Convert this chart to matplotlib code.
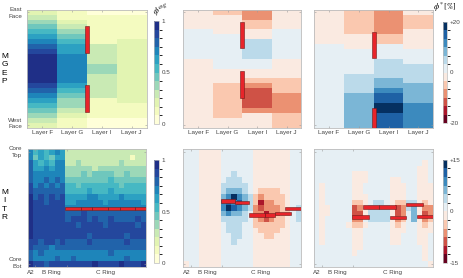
import numpy as np
import matplotlib
matplotlib.use('Agg')
import matplotlib.pyplot as plt
from matplotlib.colors import ListedColormap, BoundaryNorm
from matplotlib.patches import Rectangle

plt.rcParams['font.family'] = ['Liberation Sans', 'DejaVu Sans']
plt.rcParams['mathtext.fontset'] = 'stix'

W, H = 464, 278

# ---------------- data ----------------
# colour levels 0..11 (hex digit), one string per layer, row 0 = east face
layers = ['Layer F', 'Layer G', 'Layer I', 'Layer J']
mgep_avg = ['23456789abbbbbba98765432',
            '112345677888888765443211',
            '011111133334433333111100',
            '011111222222222222211100']
mgep_d1 = ['555566666655555555555555',
           '455556666666555444444455',
           '334455777766554322223555',
           '555566666655554443333444']
mgep_d2 = ['555555566666666666666666',
           '444445556666677778888888',
           '33333446667777889aabbaaa',
           '544455556667777888899999']
# red bars (row from, row to) at the G / I boundary
mgep_bars_avg = [(3.4, 8.8), (15.4, 20.9)]
mgep_bars_d1 = [(2.45, 7.9), (12.5, 17.9)]
mgep_bars_d2 = [(4.5, 9.8), (20.0, 24.5)]

# MITR: 22 columns (A2, B ring x6, C ring x15), 21 rows, row 0 = core top
rings = ['A2', 'B Ring', 'C Ring']
ring_pos = [0.6, 4.4, 14.5]
mitr_avg = ['8676787333333333333333',
            '8576577333333333333133',
            '9767688334333333343333',
            '9778788444443444444444',
            '9888888444545555445444',
            '9889898555555556555555',
            'a898989665666666656666',
            'a999999666676667666666',
            'b9a9a9a777788777787777',
            'baa9aaa778888878888887',
            'baaaaaa888888888888888',
            'baaaaaa999a99999999999',
            'baaaaaa9aaa9a99a9999a9',
            'baaaaaaaa9aaaa9aaaaa9a',
            'baaaaaaaaaaaaaaaaaaaaa',
            'baaaaaaaaaa9aaaaaa9aaa',
            'aa9aa9a9999a999999a999',
            'a999899999999999999999',
            '9898888888888889888888',
            '9888898898888888889888',
            'baa9aaaaaaaabaaaabaaab']
mitr_d1 = ['6665555666666555555566',
           '6665555666666555555566',
           '6665555666666555555566',
           '6665555666666555555566',
           '6665555667666555555566',
           '6665555677766555555566',
           '6665555777776555555566',
           '6665555788876544445566',
           '666555589b987434444566',
           '66655559a9a87413344566',
           '66655559ba987323334567',
           '6665555898876331334467',
           '6665555777776432344567',
           '6665555677766444444566',
           '6665555677766544445566',
           '6665555667766554455566',
           '6665555667666555555566',
           '6665555666666555555566',
           '6665555666666555555566',
           '6665555666666555555566',
           '5665555666666555555566']
mitr_d2 = ['6666666666666666666666',
           '6666666666666666666666',
           '6666666666666666666656',
           '6666666666666666666556',
           '6666666555666666666556',
           '6666666555666655666556',
           '6566666556666655566555',
           '6566666556666655566555',
           '6566666555666655566555',
           '6566666445677654477545',
           '6556666235777752378533',
           '6556666225777752368523',
           '6566666336777753468534',
           '6566665445666654566545',
           '6566666556666655566555',
           '6566666556666655666556',
           '6566666556666655666556',
           '6666666556666666666656',
           '6666666566666666666656',
           '6666666666666666666656',
           '6666666666666666666665']
# red bars (col from, col to, row centre)
mitr_bars_avg = [(7, 10, 10.6), (10, 12, 10.6), (12, 15, 10.6),
                 (15, 17.2, 10.6), (17.2, 20, 10.6), (20, 22, 10.6)]
mitr_bars_d1 = [(7.0, 9.6, 9.2), (9.6, 12.2, 9.5), (12.2, 15.3, 11.7),
                (15.3, 17.2, 11.8), (17.2, 20.2, 11.5), (19.0, 22.0, 10.6)]
mitr_bars_d2 = [(9.1, 12.1, 10.35), (12.1, 15.1, 10.35), (7.0, 10.1, 12.1),
                (14.0, 17.1, 12.2), (17.0, 20.1, 9.9), (19.1, 22.0, 12.0)]

# ---------------- colours ----------------
nlev = 12
avg_cmap = ListedColormap(plt.get_cmap('YlGnBu')(np.linspace(0.0, 0.9, nlev)))
diff_cmap = ListedColormap(plt.get_cmap('RdBu')(np.linspace(0.0, 1.0, nlev)))
bar_fc, bar_ec = '#e8242a', '#6e1a1a'
spine_c = '#bbbbbb'
txt_c = '#444444'


def levels_to_values(rows, vmin, vmax):
    lv = np.array([[int(ch, 16) for ch in r] for r in rows], dtype=float)
    return vmin + (lv + 0.5) * (vmax - vmin) / nlev


fig = plt.figure(figsize=(W / 100, H / 100), dpi=100)


def px_axes(x0, y0, x1, y1):
    return fig.add_axes([x0 / W, 1 - y1 / H, (x1 - x0) / W, (y1 - y0) / H])


def style(ax):
    for s in ax.spines.values():
        s.set_color(spine_c)
        s.set_linewidth(0.6)
    ax.tick_params(direction='in', length=1.5, width=0.4, color='#999999',
                   top=True, right=True, labelsize=4.5, labelcolor=txt_c, pad=1.5)


def draw_grid(ax, grid, cmap, vmin, vmax):
    norm = BoundaryNorm(np.linspace(vmin, vmax, nlev + 1), nlev)
    nr, nc = grid.shape
    pm = ax.pcolormesh(np.arange(nc + 1), np.arange(nr + 1), grid,
                       cmap=cmap, norm=norm)
    ax.set_xlim(0, nc)
    ax.set_ylim(nr, 0)
    return pm


def mgep_panel(ax, cols, bars, cmap, vmin, vmax):
    grid = levels_to_values(cols, vmin, vmax).T
    pm = draw_grid(ax, grid, cmap, vmin, vmax)
    for y0, y1 in bars:
        ax.add_patch(Rectangle((2 - 0.065, y0), 0.13, y1 - y0,
                               fc=bar_fc, ec=bar_ec, lw=0.4, zorder=3))
    ax.set_xticks(np.arange(4) + 0.5, layers)
    ax.set_yticks([0.5, 23.5], ['', ''])
    style(ax)
    return pm


def mitr_panel(ax, rows, bars, cmap, vmin, vmax):
    grid = levels_to_values(rows, vmin, vmax)
    pm = draw_grid(ax, grid, cmap, vmin, vmax)
    for x0, x1, yc in bars:
        ax.add_patch(Rectangle((x0, yc - 0.33), x1 - x0, 0.66,
                               fc=bar_fc, ec=bar_ec, lw=0.4, zorder=3))
    ax.set_xticks([1.4, 7.3], ['', ''])
    ax.set_yticks([0.5, 20.5], ['', ''])
    style(ax)
    for name, xp in zip(rings, ring_pos):
        ax.text(xp, 22.0, name, ha='center', va='center', fontsize=4.5,
                color=txt_c)
    return pm


def colorbar(pm, box, ticks, labels):
    cax = px_axes(*box)
    cb = fig.colorbar(pm, cax=cax)
    cb.set_ticks(ticks, labels=labels)
    cb.ax.tick_params(length=0, labelsize=4.5, labelcolor=txt_c, pad=2)
    cb.outline.set_edgecolor(spine_c)
    cb.outline.set_linewidth(0.5)
    return cb


top = (9.7, 127.5)
bot = (149, 267)
ax1 = px_axes(27.5, top[0], 146.5, top[1])
ax2 = px_axes(183.3, top[0], 301.5, top[1])
ax3 = px_axes(314, top[0], 433.3, top[1])
ax4 = px_axes(27.7, bot[0], 146, bot[1])
ax5 = px_axes(183.3, bot[0], 301, bot[1])
ax6 = px_axes(314, bot[0], 433, bot[1])

pm1 = mgep_panel(ax1, mgep_avg, mgep_bars_avg, avg_cmap, 0, 1)
pm2 = mgep_panel(ax2, mgep_d1, mgep_bars_d1, diff_cmap, -20, 20)
mgep_panel(ax3, mgep_d2, mgep_bars_d2, diff_cmap, -20, 20)
pm4 = mitr_panel(ax4, mitr_avg, mitr_bars_avg, avg_cmap, 0, 1)
pm5 = mitr_panel(ax5, mitr_d1, mitr_bars_d1, diff_cmap, -15, 15)
mitr_panel(ax6, mitr_d2, mitr_bars_d2, diff_cmap, -15, 15)

colorbar(pm1, (154, 21, 159, 124), [0, 0.5, 1], ['0', '0.5', '1'])
colorbar(pm4, (154, 160, 159, 263), [0, 0.5, 1], ['0', '0.5', '1'])
colorbar(pm2, (442.7, 21.7, 446.7, 123.3), [-20, 0, 20], ['-20', '0', '+20'])
colorbar(pm5, (442.7, 159.7, 446.7, 263), [-15, 0, 15], ['-15', '0', '+15'])

# row labels
fig.text(4.5 / W, 1 - 69 / H, 'M\nG\nE\nP', ha='center', va='center',
         fontsize=6, linespacing=1.25)
fig.text(4.5 / W, 1 - 205 / H, 'M\nI\nT\nR', ha='center', va='center',
         fontsize=6, linespacing=1.25)
for lab, yp in [('East\nFace', 13), ('West\nFace', 123.5),
                ('Core\nTop', 152), ('Core\nBot', 263)]:
    fig.text(22 / W, 1 - yp / H, lab, ha='right', va='center', fontsize=4.5,
             color=txt_c, linespacing=1.3)

fig.text(151 / W, 1 - 11 / H, r'$\phi^{avg}$', ha='left', va='center',
         fontsize=6, rotation=20)
fig.text(445 / W, 1 - 7.5 / H, r'$\phi^{*}\,[\%]$', ha='center', va='center',
         fontsize=6)

fig.savefig('out.png', dpi=100)
